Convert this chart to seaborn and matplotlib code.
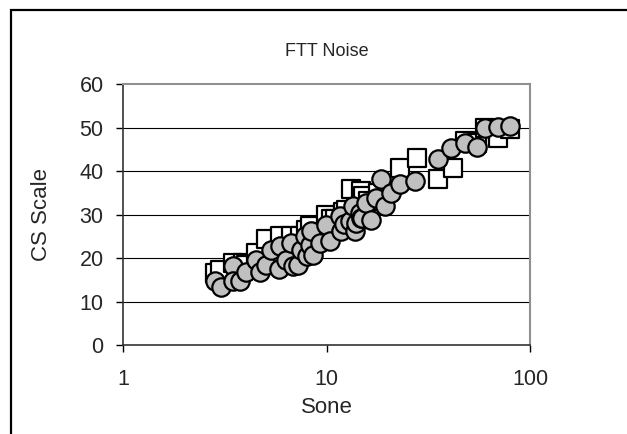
import matplotlib
matplotlib.use("Agg")
import matplotlib.pyplot as plt
import seaborn as sns
import pandas as pd
from matplotlib.patches import Rectangle
from matplotlib.ticker import FixedLocator, FixedFormatter, NullLocator

# ---- data ----
sone_square = [2.82, 2.98, 3.47, 3.89, 4.0, 4.52, 5.07, 5.89, 6.3, 6.72, 7.38, 7.96,
               8.27, 9.0, 9.99, 10.5, 11.0, 12.0, 12.5, 13.2, 14.8, 15.1, 16.0, 18.0,
               22.9, 27.7, 35.3, 41.9, 47.8, 55.0, 59.9, 69.6, 79.4]
cs_square = [16.5, 17.3, 18.8, 18.8, 18.5, 21.2, 24.4, 25.0, 22.0, 25.0, 25.0, 26.5,
             27.3, 26.0, 30.0, 29.0, 29.0, 30.5, 31.0, 35.8, 35.4, 34.2, 33.0, 35.0,
             40.8, 42.9, 38.1, 40.8, 47.0, 46.5, 50.0, 47.7, 49.6]

sone_circle = [2.84, 3.04, 3.47, 3.47, 3.75, 4.04, 4.52, 4.70, 5.07, 5.36, 5.89, 5.84,
               6.35, 6.72, 6.85, 7.24, 7.53, 7.8, 8.0, 8.27, 8.43, 8.58, 9.26, 9.99,
               10.4, 11.6, 11.8, 12.2, 13.0, 13.5, 13.8, 14.0, 14.6, 14.8, 15.0, 15.7,
               16.6, 17.6, 18.6, 19.3, 20.8, 22.9, 27.1, 35.3, 41.1, 47.8, 55.0, 59.9,
               69.6, 79.4]
cs_circle = [14.6, 13.3, 18.1, 14.8, 14.8, 16.7, 19.5, 16.7, 18.5, 21.9, 22.7, 17.5,
             19.6, 23.5, 18.1, 18.5, 21.9, 25.0, 20.4, 23.1, 26.2, 20.8, 23.5, 27.5,
             23.8, 29.6, 26.2, 27.8, 28.5, 31.9, 26.2, 28.0, 30.4, 29.2, 29.3, 32.7,
             28.8, 33.8, 38.1, 31.9, 35.0, 36.9, 37.7, 42.7, 45.4, 46.5, 45.6, 50.0,
             50.2, 50.4]

title = "FTT Noise"
xlabel = "Sone"
ylabel = "CS Scale"
yticks = [0, 10, 20, 30, 40, 50, 60]
xticks = [1, 10, 100]
xticklabels = ["1", "10", "100"]

df_sq = pd.DataFrame({"Sone": sone_square, "CS": cs_square})
df_ci = pd.DataFrame({"Sone": sone_circle, "CS": cs_circle})

sns.set_style("white")
plt.rcParams["font.family"] = ["Liberation Sans", "DejaVu Sans"]

fig = plt.figure(figsize=(6.27, 4.34), dpi=100)
ax = fig.add_axes([123 / 627, 1 - 345 / 434, (530 - 123) / 627, (345 - 84) / 434])

ax.set_xscale("log")
ax.set_xlim(1, 100)
ax.set_ylim(0, 60)

for y in yticks[1:-1]:
    ax.axhline(y, color="black", lw=0.8, zorder=1)

sns.scatterplot(data=df_sq, x="Sone", y="CS", ax=ax, marker="s", s=185,
                color="white", edgecolor="black", linewidth=1.6, zorder=3)
sns.scatterplot(data=df_ci, x="Sone", y="CS", ax=ax, marker="o", s=175,
                color="#c0c0c0", edgecolor="black", linewidth=1.6, zorder=4)

ax.xaxis.set_major_locator(FixedLocator(xticks))
ax.xaxis.set_major_formatter(FixedFormatter(xticklabels))
ax.xaxis.set_minor_locator(NullLocator())
ax.set_yticks(yticks)

ax.tick_params(axis="both", which="major", direction="out", length=5, width=1,
               color="black", labelsize=15.5, bottom=True, left=True)
ax.tick_params(axis="x", pad=12)
ax.tick_params(axis="y", pad=9)

for side in ["left", "bottom"]:
    ax.spines[side].set_color("#333333")
    ax.spines[side].set_linewidth(1.2)
for side in ["top", "right"]:
    ax.spines[side].set_color("#909090")
    ax.spines[side].set_linewidth(1.5)

ax.set_title(title, fontsize=13, pad=20)
ax.set_xlabel(xlabel, fontsize=16, labelpad=5)
ax.set_ylabel(ylabel, fontsize=16, labelpad=20)

fig.patches.append(Rectangle((10.5 / 627, -0.2), 1.2, 1 - 10.5 / 434 + 0.2,
                             transform=fig.transFigure, fill=False,
                             edgecolor="black", linewidth=1.6, clip_on=False))

fig.savefig("out.png", dpi=100, facecolor="white")
